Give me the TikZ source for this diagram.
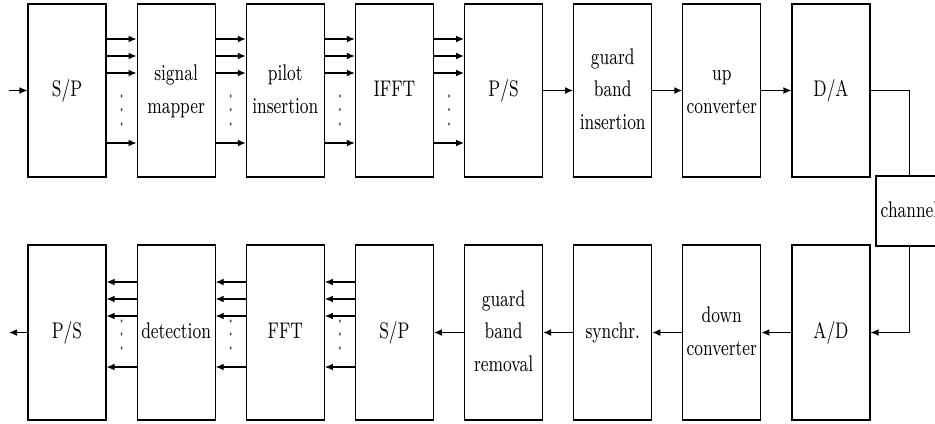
\documentclass[tikz,border=0pt]{standalone}
\usepackage{graphicx}
\usetikzlibrary{arrows.meta,calc}
\newcommand{\boxtext}[1]{\scalebox{1}[1.38]{\begin{tabular}{@{}c@{}}#1\end{tabular}}}
\begin{document}
\begin{tikzpicture}[x=0.5pt,y=-0.5pt,
  blk/.style={draw, line width=0.55pt, minimum width=39pt, minimum height=86.5pt, inner sep=0pt, font=\fontsize{8.2}{11.7}\selectfont},
  blkb/.style={blk, minimum height=87.5pt},
  conn/.style={line width=0.6pt},
  arr/.style={conn, -{Latex[length=4pt,width=3.4pt]}},
  vdot/.style={fill=black!70}]
\clip (0,0) rectangle (935,423);
% top row
\node[blk] (sp1)  at (67,90.5)    {\boxtext{S/P}};
\node[blk] (map)  at (176.1,90.5) {\boxtext{signal\\mapper}};
\node[blk] (pil)  at (285.3,90.5) {\boxtext{pilot\\insertion}};
\node[blk] (ifft) at (394.4,90.5) {\boxtext{IFFT}};
\node[blk] (ps1)  at (503.6,90.5) {\boxtext{P/S}};
\node[blk] (gbi)  at (612.7,90.5) {\boxtext{guard\\band\\insertion}};
\node[blk] (up)   at (721.8,90.5) {\boxtext{up\\converter}};
\node[blk] (da)   at (831,90.5)   {\boxtext{D/A}};
% bottom row
\node[blkb] (ps2)  at (67,332.5)    {\boxtext{P/S}};
\node[blkb] (det)  at (176.1,332.5) {\boxtext{detection}};
\node[blkb] (fft)  at (285.3,332.5) {\boxtext{FFT}};
\node[blkb] (sp2)  at (394.4,332.5) {\boxtext{S/P}};
\node[blkb] (gbr)  at (503.6,332.5) {\boxtext{guard\\band\\removal}};
\node[blkb] (syn)  at (612.7,332.5) {\boxtext{synchr.}};
\node[blkb] (down) at (721.8,332.5) {\boxtext{down\\converter}};
\node[blkb] (ad)   at (831,332.5)   {\boxtext{A/D}};
% channel
\node[blk, minimum width=33.5pt, minimum height=35pt] (ch) at (909.5,211) {\boxtext{channel}};
% levels
\coordinate (t1) at (0,39);  \coordinate (t2) at (0,56);
\coordinate (t3) at (0,73);  \coordinate (t4) at (0,143);
\coordinate (u1) at (0,96);  \coordinate (u2) at (0,109.5); \coordinate (u3) at (0,124);
\coordinate (b1) at (0,282); \coordinate (b2) at (0,299);
\coordinate (b3) at (0,316); \coordinate (b4) at (0,367);
\coordinate (v1) at (0,321); \coordinate (v2) at (0,334); \coordinate (v3) at (0,348);
\coordinate (in)  at (9,90.5);
\coordinate (out) at (9,332.5);
% input / output
\draw[arr] (in) -- (sp1.west);
\draw[arr] (ps2.west) -- (out);
% parallel buses, top
\foreach \a/\b in {sp1/map, map/pil, pil/ifft, ifft/ps1}{
  \foreach \l in {t1,t2,t3,t4}{
    \draw[arr] (\a.east |- \l) -- (\b.west |- \l);
  }
  \coordinate (m) at ($(\a.east)!0.5!(\b.west)$);
  \foreach \l in {u1,u2,u3}{
    \fill[vdot] (m |- \l) ellipse [x radius=0.5pt, y radius=0.9pt];
  }
}
% parallel buses, bottom
\foreach \a/\b in {ps2/det, det/fft, fft/sp2}{
  \foreach \l in {b1,b2,b3,b4}{
    \draw[arr] (\b.west |- \l) -- (\a.east |- \l);
  }
  \coordinate (m) at ($(\a.east)!0.5!(\b.west)$);
  \foreach \l in {v1,v2,v3}{
    \fill[vdot] (m |- \l) ellipse [x radius=0.5pt, y radius=0.9pt];
  }
}
% single connections
\draw[arr] (ps1.east) -- (gbi.west);
\draw[arr] (gbi.east) -- (up.west);
\draw[arr] (up.east) -- (da.west);
\draw[conn] (da.east) -| (ch.north);
\draw[arr] (ch.south) |- (ad.east);
\draw[arr] (ad.west) -- (down.east);
\draw[arr] (down.west) -- (syn.east);
\draw[arr] (syn.west) -- (gbr.east);
\draw[arr] (gbr.west) -- (sp2.east);
\end{tikzpicture}
\end{document}
